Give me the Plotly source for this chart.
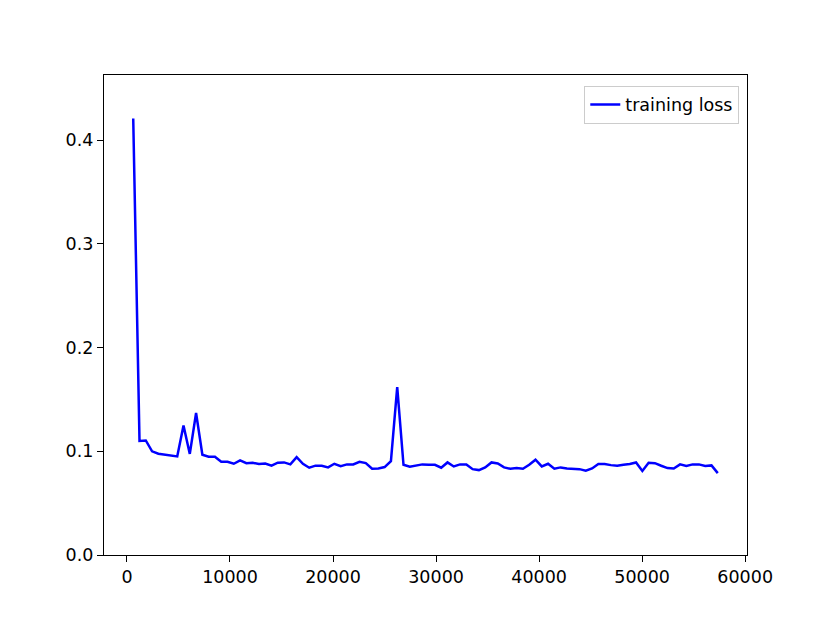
import plotly.graph_objects as go

# iteration at which each loss value was logged
iterations = [
    610, 1220, 1830, 2440, 3050, 3660, 4270, 4880, 5490, 6100,
    6710, 7320, 7930, 8540, 9150, 9760, 10370, 10980, 11590, 12200,
    12810, 13420, 14030, 14640, 15250, 15860, 16470, 17080, 17690, 18300,
    18910, 19520, 20130, 20740, 21350, 21960, 22570, 23180, 23790, 24400,
    25010, 25620, 26230, 26840, 27450, 28060, 28670, 29280, 29890, 30500,
    31110, 31720, 32330, 32940, 33550, 34160, 34770, 35380, 35990, 36600,
    37210, 37820, 38430, 39040, 39650, 40260, 40870, 41480, 42090, 42700,
    43310, 43920, 44530, 45140, 45750, 46360, 46970, 47580, 48190, 48800,
    49410, 50020, 50630, 51240, 51850, 52460, 53070, 53680, 54290, 54900,
    55510, 56120, 56730, 57340,
]

training_loss = [
    0.421, 0.110, 0.1105, 0.100, 0.0977, 0.0967, 0.0957, 0.0951, 0.125, 0.0975,
    0.137, 0.0967, 0.0948, 0.0948, 0.0900, 0.0899, 0.0880, 0.0912, 0.0886, 0.0890,
    0.0877, 0.0883, 0.0861, 0.0890, 0.0893, 0.0874, 0.0944, 0.0880, 0.0842, 0.0862,
    0.0861, 0.0845, 0.0880, 0.0857, 0.0874, 0.0874, 0.0899, 0.0886, 0.0832, 0.0835,
    0.0848, 0.0906, 0.162, 0.0870, 0.0851, 0.0861, 0.0874, 0.0870, 0.0870, 0.0842,
    0.0893, 0.0854, 0.0874, 0.0874, 0.0828, 0.0819, 0.0845, 0.0893, 0.0883, 0.0845,
    0.0832, 0.0838, 0.0832, 0.0870, 0.0919, 0.0854, 0.0880, 0.0832, 0.0845, 0.0835,
    0.0832, 0.0828, 0.0813, 0.0835, 0.0877, 0.0877, 0.0867, 0.0861, 0.0870, 0.0877,
    0.0893, 0.0810, 0.0890, 0.0886, 0.0861, 0.0838, 0.0835, 0.0874, 0.0858, 0.0874,
    0.0874, 0.0858, 0.0864, 0.0790,
]

x_ticks = [0, 10000, 20000, 30000, 40000, 50000, 60000]
x_tick_labels = ["0", "10000", "20000", "30000", "40000", "50000", "60000"]
y_ticks = [0.0, 0.1, 0.2, 0.3, 0.4]
y_tick_labels = ["0.0", "0.1", "0.2", "0.3", "0.4"]

fig = go.Figure()
fig.add_trace(go.Scatter(
    x=iterations, y=training_loss, mode="lines", name="training loss",
    line=dict(color="#0000ff", width=2.5),
))

span = iterations[-1] - iterations[0]
axis_style = dict(
    showline=True, linecolor="black", linewidth=1.3, mirror=True,
    ticks="outside", ticklen=6, tickwidth=1.3, tickcolor="black",
    showgrid=False, zeroline=False,
    tickfont=dict(family="DejaVu Sans", size=17.5, color="black"),
)

# the page body adds an 8px offset, so margins are shifted to compensate
fig.update_layout(
    width=830, height=623,
    margin=dict(l=96, r=91, t=67, b=76),
    paper_bgcolor="white", plot_bgcolor="white",
    font=dict(family="DejaVu Sans", size=17.5, color="black"),
    xaxis=dict(range=[iterations[0] - 0.05 * span, iterations[-1] + 0.05 * span],
               tickvals=x_ticks, ticktext=x_tick_labels, **axis_style),
    yaxis=dict(range=[0, 0.463], tickvals=y_ticks, ticktext=y_tick_labels, **axis_style),
    legend=dict(x=0.988, y=0.978, xanchor="right", yanchor="top",
                bgcolor="rgba(255,255,255,0.8)", bordercolor="#cccccc", borderwidth=1,
                font=dict(family="DejaVu Sans", size=17.5, color="black")),
    showlegend=True,
)

fig.write_html("out.html")
